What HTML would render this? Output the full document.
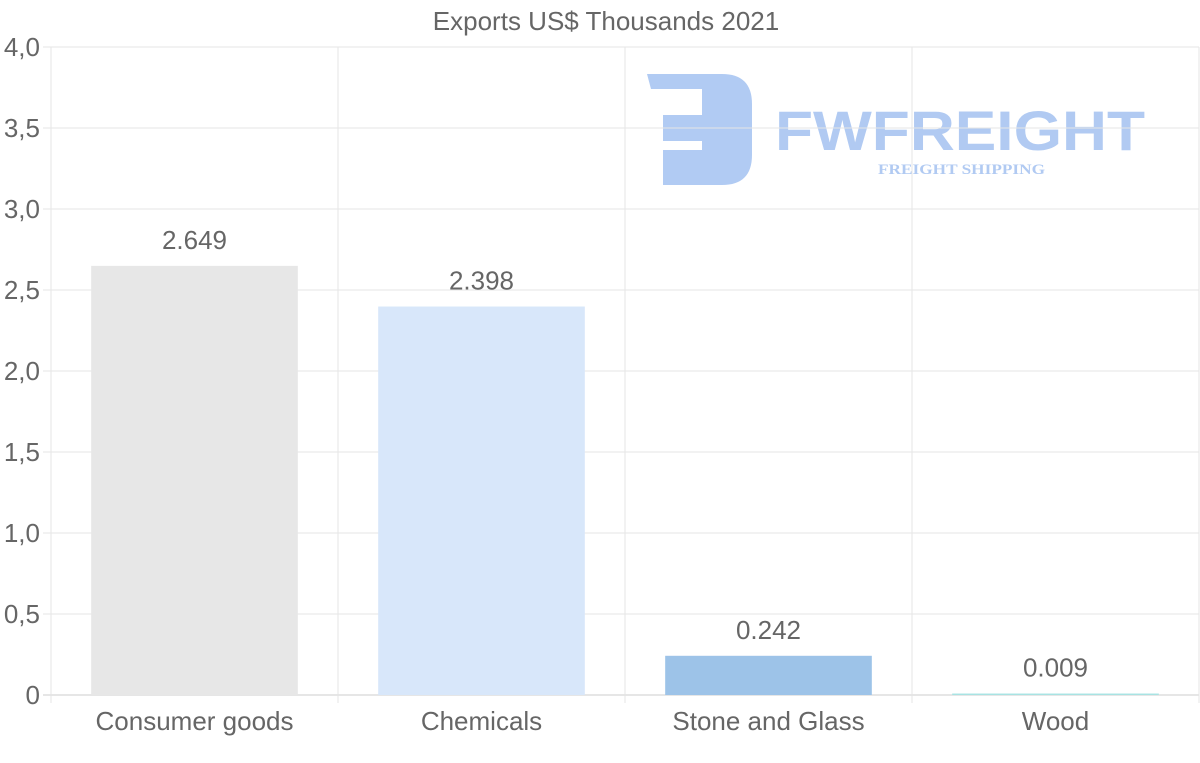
<!DOCTYPE html>
<html><head><meta charset="utf-8"><style>
body{margin:0;background:#fff;}
svg{display:block;font-family:"Liberation Sans",sans-serif;}
</style></head><body>
<svg id="c" width="1200" height="763">
<g opacity="0.95">
<path d="M647 74 H722 Q752 74 752 104 V155 Q752 185 722 185 H663 V150 H702 V141 H663 V115 H702 V89 H651 Z" fill="#adc8f2"/>
<text x="775" y="150" font-size="56" font-weight="bold" fill="#adc8f2" textLength="370" lengthAdjust="spacingAndGlyphs" font-family="'Liberation Sans',sans-serif">FWFREIGHT</text>
<text x="878" y="174" font-size="15" font-weight="bold" fill="#adc8f2" font-family="'Liberation Serif',serif" textLength="167" lengthAdjust="spacingAndGlyphs">FREIGHT SHIPPING</text>
</g>
<g id="grid"></g><g id="bars"></g><g id="labels"></g>
<text x="606" y="30" text-anchor="middle" font-size="26" fill="#666">Exports US$ Thousands 2021</text>
</svg>
<script>
const categories=["Consumer goods","Chemicals","Stone and Glass","Wood"];
const values=[2.649,2.398,0.242,0.009];
const valueLabels=["2.649","2.398","0.242","0.009"];
const yTicks=[0,0.5,1,1.5,2,2.5,3,3.5,4];
const yTickLabels=["0","0,5","1,0","1,5","2,0","2,5","3,0","3,5","4,0"];
const colors=["#e7e7e7","#d8e7fa","#9dc3e8","#a8e3e3"];
const NS="http://www.w3.org/2000/svg";
const L=51,R=1199,T=47,B=695;
const y=v=>B-(v/4)*(B-T);
const bw=(R-L)/categories.length;
const x=i=>L+bw*i;
function mk(tag,attrs,parent,txt){const e=document.createElementNS(NS,tag);for(const k in attrs)e.setAttribute(k,attrs[k]);if(txt!==undefined)e.textContent=txt;document.getElementById(parent).appendChild(e);return e;}
yTicks.forEach((t,i)=>{
 const g=mk("line",{x1:L-8,x2:R,y1:y(t),y2:y(t),stroke:i==0?"#ccc":"#e5e5e5","stroke-width":1},"grid");
 
 
 const tl=mk("text",{x:40,y:y(t)+9,"text-anchor":"end","font-size":26,fill:"#666"},"grid",yTickLabels[i]);
 
 
});
for(let i=0;i<=categories.length;i++){
 const g=mk("line",{x1:x(i),x2:x(i),y1:T,y2:B+8,stroke:"#e5e5e5","stroke-width":1},"grid");
 
 
}
categories.forEach((c,i)=>{
 const w=bw*0.72, bx=x(i)+(bw-w)/2;
 const r=mk("rect",{x:bx,y:y(values[i]),width:w,height:Math.max(B-y(values[i]),1),fill:colors[i]},"bars");
 
 
 const v=mk("text",{x:x(i)+bw/2,y:y(values[i])-17,"text-anchor":"middle","font-size":26,fill:"#666"},"labels",valueLabels[i]);
 
 
 const cl=mk("text",{x:x(i)+bw/2,y:730,"text-anchor":"middle","font-size":26,fill:"#666"},"labels",c);
 
 
});
</script>
</body></html>
